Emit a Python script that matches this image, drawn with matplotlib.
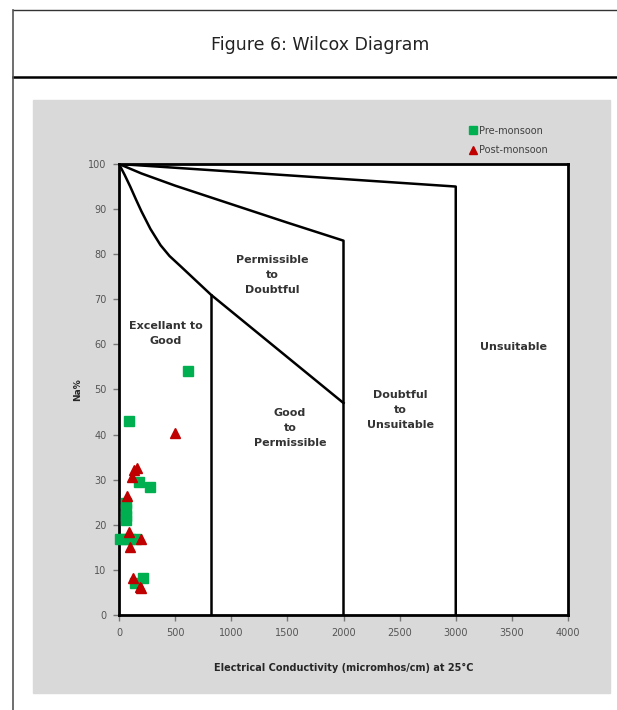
import matplotlib.pyplot as plt
from matplotlib.lines import Line2D
from matplotlib.patches import Rectangle

# boundaries of the Wilcox classes (EC, Na%)
unsuit_x = [0, 3000, 3000]
unsuit_y = [100, 95, 0]
doubt_x = [0, 200, 500, 1000, 1500, 2000, 2000]
doubt_y = [100, 97.9, 95.2, 91.1, 87.0, 83, 0]
perm_x = [0, 50, 100, 150, 200, 280, 370, 450, 550, 820, 2000]
perm_y = [100, 97.6, 95.0, 92.2, 89.5, 85.6, 82.0, 79.6, 77.3, 71, 47]
good_x = [820, 820]
good_y = [71, 0]

# samples
pre_ec = [89, 618, 178, 279, 62, 62, 62, 62, 10, 50, 100, 150, 217, 143]
pre_na = [43.0, 54.1, 29.6, 28.4, 24.8, 23.4, 22.0, 21.0, 16.9, 16.9, 16.9, 16.9, 8.1, 7.2]
post_ec = [499, 163, 137, 113, 74, 92, 193, 98, 128, 187, 200]
post_na = [40.4, 32.7, 32.2, 30.6, 26.3, 18.4, 16.9, 15.0, 8.2, 6.3, 6.0]

green = '#00B050'
red = '#C00000'

W, H = 617, 710
fig = plt.figure(figsize=(W / 100, H / 100), dpi=100)

# page frame and title box
fig.add_artist(Line2D([13 / W, 1], [1 - 10 / H, 1 - 10 / H], color='#333333', lw=1))
fig.add_artist(Line2D([13 / W, 1], [1 - 77 / H, 1 - 77 / H], color='black', lw=1.8))
fig.add_artist(Line2D([13 / W, 13 / W], [0, 1 - 10 / H], color='#555555', lw=1.2))
fig.text(320 / W, 1 - 45 / H, 'Figure 6: Wilcox Diagram', ha='center', va='center',
         fontsize=12.5, color='#222222')

# grey chart area
fig.add_artist(Rectangle((33 / W, 1 - 693 / H), (610 - 33) / W, (693 - 100) / H,
                         transform=fig.transFigure, color='#D9D9D9', zorder=0))

ax = fig.add_axes([119 / W, 1 - 615 / H, (568 - 119) / W, (615 - 164) / H])
ax.set_facecolor('white')

for xs, ys in [(unsuit_x, unsuit_y), (doubt_x, doubt_y), (perm_x, perm_y), (good_x, good_y)]:
    ax.plot(xs, ys, color='black', lw=1.8, solid_joinstyle='round')

ax.plot(pre_ec, pre_na, 's', color=green, ms=7, label='Pre-monsoon', clip_on=False, zorder=3)
ax.plot(post_ec, post_na, '^', color=red, ms=7.5, label='Post-monsoon', clip_on=False, zorder=4)

labels = [
    (1364, 75.4, 'Permissible\nto\nDoubtful'),
    (419, 62.5, 'Excellant to\nGood'),
    (3512, 59.4, 'Unsuitable'),
    (1524, 41.4, 'Good\nto\nPermissible'),
    (2504, 45.4, 'Doubtful\nto\nUnsuitable'),
]
for x, y, t in labels:
    ax.text(x, y, t, ha='center', va='center', fontsize=8, fontweight='bold',
            color='#333333', linespacing=1.65)

ax.set_xlim(0, 4000)
ax.set_ylim(0, 100)
ax.set_xticks(range(0, 4001, 500))
ax.set_yticks(range(0, 101, 10))
for s in ax.spines.values():
    s.set_linewidth(2)
    s.set_color('black')
ax.tick_params(direction='out', length=4, width=1, color='#777777',
               labelsize=7, labelcolor='#555555', pad=5)
ax.set_xlabel('Electrical Conductivity (micromhos/cm) at 25°C', fontsize=7,
              fontweight='bold', color='#262626', labelpad=18)
ax.set_ylabel('Na%', fontsize=6.5, fontweight='bold', color='#262626', labelpad=4)

ax.legend(loc='lower left', bbox_to_anchor=(0.755, 1.0), frameon=False, fontsize=7,
          labelspacing=1.0, handletextpad=0.1, handlelength=1.2, markerscale=0.8,
          labelcolor='#404040')

fig.savefig('out.png', dpi=100)
